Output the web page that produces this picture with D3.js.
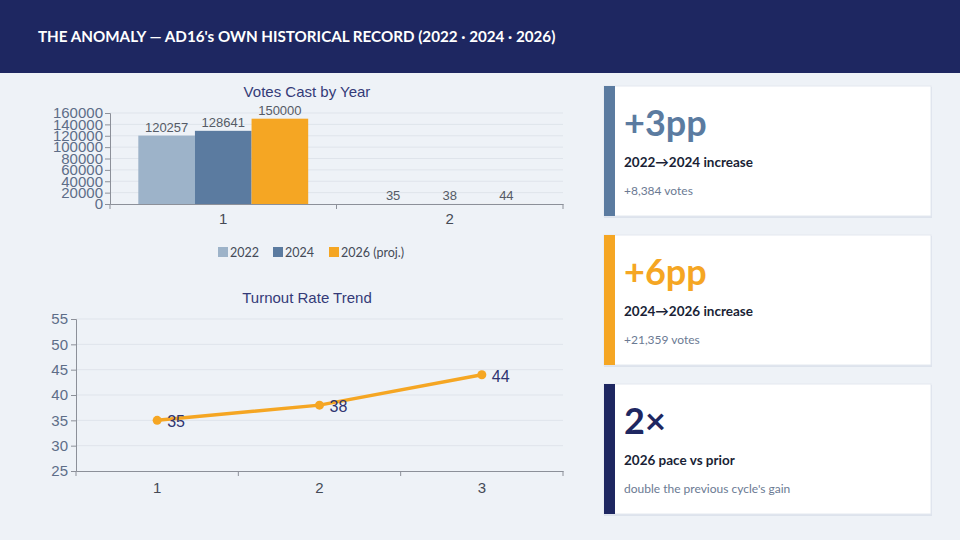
<!DOCTYPE html>
<html>
<head>
<meta charset="utf-8">
<script src="https://cdn.jsdelivr.net/npm/d3@7"></script>
<style>
  html, body { margin: 0; padding: 0; background: #eef2f7; }
  svg { display: block; }
</style>
</head>
<body>
<div id="chart"></div>
<script>
// data
const barGroups = ["1", "2"];
const barYears = ["2022", "2024", "2026 (proj.)"];
const votesByYear = [120257, 128641, 150000];
const turnoutByYear = [35, 38, 44];
const barTicks = [0, 20000, 40000, 60000, 80000, 100000, 120000, 140000, 160000];

const lineCats = ["1", "2", "3"];
const turnoutRate = [35, 38, 44];
const lineTicks = [25, 30, 35, 40, 45, 50, 55];

const cardValues = ["+3pp", "+6pp", "2×"];
const cardTitles = ["2022→2024 increase", "2024→2026 increase", "2026 pace vs prior"];
const cardNotes = ["+8,384 votes", "+21,359 votes", "double the previous cycle's gain"];

const yearColors = ["#9db3c9", "#5b7ba0", "#f5a623"];
const cardColors = ["#5b7ba0", "#f5a623", "#1e2761"];

const W = 960, H = 540;
const svg = d3.select("#chart").append("svg")
    .attr("width", W)
    .attr("height", H);

svg.append("rect").attr("width", W).attr("height", H).attr("fill", "#eef2f7");

// Header
svg.append("rect").attr("width", W).attr("height", 73).attr("fill", "#1e2761");
svg.append("text")
    .attr("x", 38).attr("y", 42)
    .attr("fill", "white")
    .attr("font-family", "Lato, 'Open Sans', sans-serif")
    .attr("font-weight", "bold")
    .attr("font-size", 15.2)
    .text("THE ANOMALY — AD16's OWN HISTORICAL RECORD (2022 · 2024 · 2026)");

const axisFont = "'Liberation Sans', Arial, sans-serif";

// ---------- Bar chart: Votes Cast by Year ----------
// each group holds one value per year: group 1 votes, group 2 turnout
const barData = barGroups.map((g, gi) => ({
    group: g,
    values: barYears.map((yr, i) => ({ year: yr, value: gi === 0 ? votesByYear[i] : turnoutByYear[i] }))
}));

const bx0 = d3.scaleBand().domain(barGroups).range([110, 563]).paddingInner(0).paddingOuter(0);
const bx1 = d3.scaleBand().domain(barYears).range([0, bx0.bandwidth()]).paddingInner(0).paddingOuter(0.5);
const by = d3.scaleLinear().domain([0, 160000]).range([204, 113]);
const barColor = d3.scaleOrdinal().domain(barYears).range(yearColors);

const barG = svg.append("g");

barG.append("text")
    .attr("x", 307).attr("y", 97)
    .attr("text-anchor", "middle")
    .attr("fill", "#343b78")
    .attr("font-family", axisFont)
    .attr("font-size", 15)
    .text("Votes Cast by Year");

// gridlines
barG.selectAll("line.grid")
    .data(barTicks.slice(1))
    .enter().append("line")
    .attr("class", "grid")
    .attr("x1", 110).attr("x2", 563)
    .attr("y1", d => by(d)).attr("y2", d => by(d))
    .attr("stroke", "#dfe4eb").attr("stroke-width", 1);

// bars
const groups = barG.selectAll("g.grp")
    .data(barData)
    .enter().append("g")
    .attr("class", "grp")
    .attr("transform", d => `translate(${bx0(d.group)},0)`);

groups.selectAll("rect")
    .data(d => d.values)
    .enter().append("rect")
    .attr("x", d => bx1(d.year))
    .attr("width", bx1.bandwidth())
    .attr("y", d => by(d.value))
    .attr("height", d => by(0) - by(d.value))
    .attr("fill", d => barColor(d.year));

groups.selectAll("text")
    .data(d => d.values)
    .enter().append("text")
    .attr("x", d => bx1(d.year) + bx1.bandwidth() / 2)
    .attr("y", d => by(d.value) - 4)
    .attr("text-anchor", "middle")
    .attr("fill", "#555b66")
    .attr("font-family", axisFont)
    .attr("font-size", 13)
    .text(d => d.value);

// y axis (labels overlap in the original, kept that way)
const byAxis = barG.append("g")
    .attr("transform", "translate(110,0)")
    .call(d3.axisLeft(by).tickValues(barTicks).tickFormat(d => d).tickSize(5).tickPadding(2));
byAxis.select(".domain").attr("stroke", "#8c9099");
byAxis.selectAll(".tick line").attr("stroke", "#8c9099");
byAxis.selectAll(".tick text")
    .attr("fill", "#5d6d88")
    .attr("font-family", axisFont)
    .attr("font-size", 15);

// x axis
const bxAxis = barG.append("g")
    .attr("transform", "translate(0,204)")
    .call(d3.axisBottom(bx0).tickSize(0).tickPadding(9));
bxAxis.select(".domain").attr("stroke", "#8c9099");
bxAxis.selectAll(".tick text")
    .attr("fill", "#444a55")
    .attr("font-family", axisFont)
    .attr("font-size", 15);
bxAxis.selectAll("line.edge")
    .data(barGroups.map(g => bx0(g)).concat([bx0.range()[1]]))
    .enter().append("line")
    .attr("class", "edge")
    .attr("x1", d => d).attr("x2", d => d)
    .attr("y1", 0).attr("y2", 5)
    .attr("stroke", "#8c9099");

// legend
const legendX = [218, 273, 329];
const legend = barG.selectAll("g.leg")
    .data(barYears)
    .enter().append("g")
    .attr("class", "leg")
    .attr("transform", (d, i) => `translate(${legendX[i]},247)`);
legend.append("rect").attr("width", 10).attr("height", 10).attr("fill", d => barColor(d));
legend.append("text")
    .attr("x", 12).attr("y", 9.5)
    .attr("fill", "#454b58")
    .attr("font-family", "Lato, 'Open Sans', sans-serif")
    .attr("font-size", 12.5)
    .text(d => d);

// ---------- Line chart: Turnout Rate Trend ----------
const lx = d3.scaleBand().domain(lineCats).range([76, 563]);
const ly = d3.scaleLinear().domain([25, 55]).range([471, 319]);

const lineG = svg.append("g");

lineG.append("text")
    .attr("x", 307).attr("y", 303)
    .attr("text-anchor", "middle")
    .attr("fill", "#343b78")
    .attr("font-family", axisFont)
    .attr("font-size", 15)
    .text("Turnout Rate Trend");

lineG.selectAll("line.grid")
    .data(lineTicks.slice(1))
    .enter().append("line")
    .attr("class", "grid")
    .attr("x1", 76).attr("x2", 563)
    .attr("y1", d => ly(d)).attr("y2", d => ly(d))
    .attr("stroke", "#dfe4eb");

const lyAxis = lineG.append("g")
    .attr("transform", "translate(76,0)")
    .call(d3.axisLeft(ly).tickValues(lineTicks).tickSize(5).tickPadding(3));
lyAxis.select(".domain").attr("stroke", "#8c9099");
lyAxis.selectAll(".tick line").attr("stroke", "#8c9099");
lyAxis.selectAll(".tick text")
    .attr("fill", "#5d6d88")
    .attr("font-family", axisFont)
    .attr("font-size", 15);

const lxAxis = lineG.append("g")
    .attr("transform", "translate(0,471)")
    .call(d3.axisBottom(lx).tickSize(0).tickPadding(11));
lxAxis.select(".domain").attr("stroke", "#8c9099");
lxAxis.selectAll(".tick text")
    .attr("fill", "#444a55")
    .attr("font-family", axisFont)
    .attr("font-size", 15);
lxAxis.selectAll("line.edge")
    .data(lineCats.map(c => lx(c)).concat([lx.range()[1]]))
    .enter().append("line")
    .attr("class", "edge")
    .attr("x1", d => d).attr("x2", d => d)
    .attr("y1", 0).attr("y2", 5)
    .attr("stroke", "#8c9099");

const linePts = lineCats.map((c, i) => ({ cat: c, value: turnoutRate[i] }));
const cx = d => lx(d.cat) + lx.bandwidth() / 2;

lineG.append("path")
    .datum(linePts)
    .attr("fill", "none")
    .attr("stroke", "#f5a623")
    .attr("stroke-width", 3.5)
    .attr("d", d3.line().x(cx).y(d => ly(d.value)));

lineG.selectAll("circle")
    .data(linePts)
    .enter().append("circle")
    .attr("cx", cx).attr("cy", d => ly(d.value))
    .attr("r", 4.5)
    .attr("fill", "#f5a623");

lineG.selectAll("text.val")
    .data(linePts)
    .enter().append("text")
    .attr("class", "val")
    .attr("x", d => cx(d) + 10)
    .attr("y", d => ly(d.value) + 7)
    .attr("fill", "#2e3470")
    .attr("font-family", axisFont)
    .attr("font-size", 16)
    .text(d => d.value);

// ---------- Stat cards ----------
const cardTop = [86, 235, 384];
const cards = svg.selectAll("g.card")
    .data(cardValues)
    .enter().append("g")
    .attr("class", "card")
    .attr("transform", (d, i) => `translate(604,${cardTop[i]})`);

cards.append("rect")
    .attr("x", 0).attr("y", 1)
    .attr("width", 328).attr("height", 131)
    .attr("fill", "#dde3ec");
cards.append("rect")
    .attr("width", 327).attr("height", 130)
    .attr("fill", "white")
    .attr("stroke", "#e3e8ef");
cards.append("rect")
    .attr("width", 11).attr("height", 130)
    .attr("fill", (d, i) => cardColors[i]);

cards.append("text")
    .attr("x", 20).attr("y", 50)
    .attr("fill", (d, i) => cardColors[i])
    .attr("font-family", "Lato, 'Open Sans', sans-serif")
    .attr("font-weight", "bold")
    .attr("font-size", 36)
    .text(d => d);
cards.append("text")
    .attr("x", 20).attr("y", 81)
    .attr("fill", "#1a1f36")
    .attr("font-family", "Lato, 'Open Sans', sans-serif")
    .attr("font-weight", "bold")
    .attr("font-size", 13.5)
    .text((d, i) => cardTitles[i]);
cards.append("text")
    .attr("x", 20).attr("y", 109)
    .attr("fill", "#6b7a93")
    .attr("font-family", "Lato, 'Open Sans', sans-serif")
    .attr("font-size", 12)
    .text((d, i) => cardNotes[i]);
</script>
</body>
</html>
